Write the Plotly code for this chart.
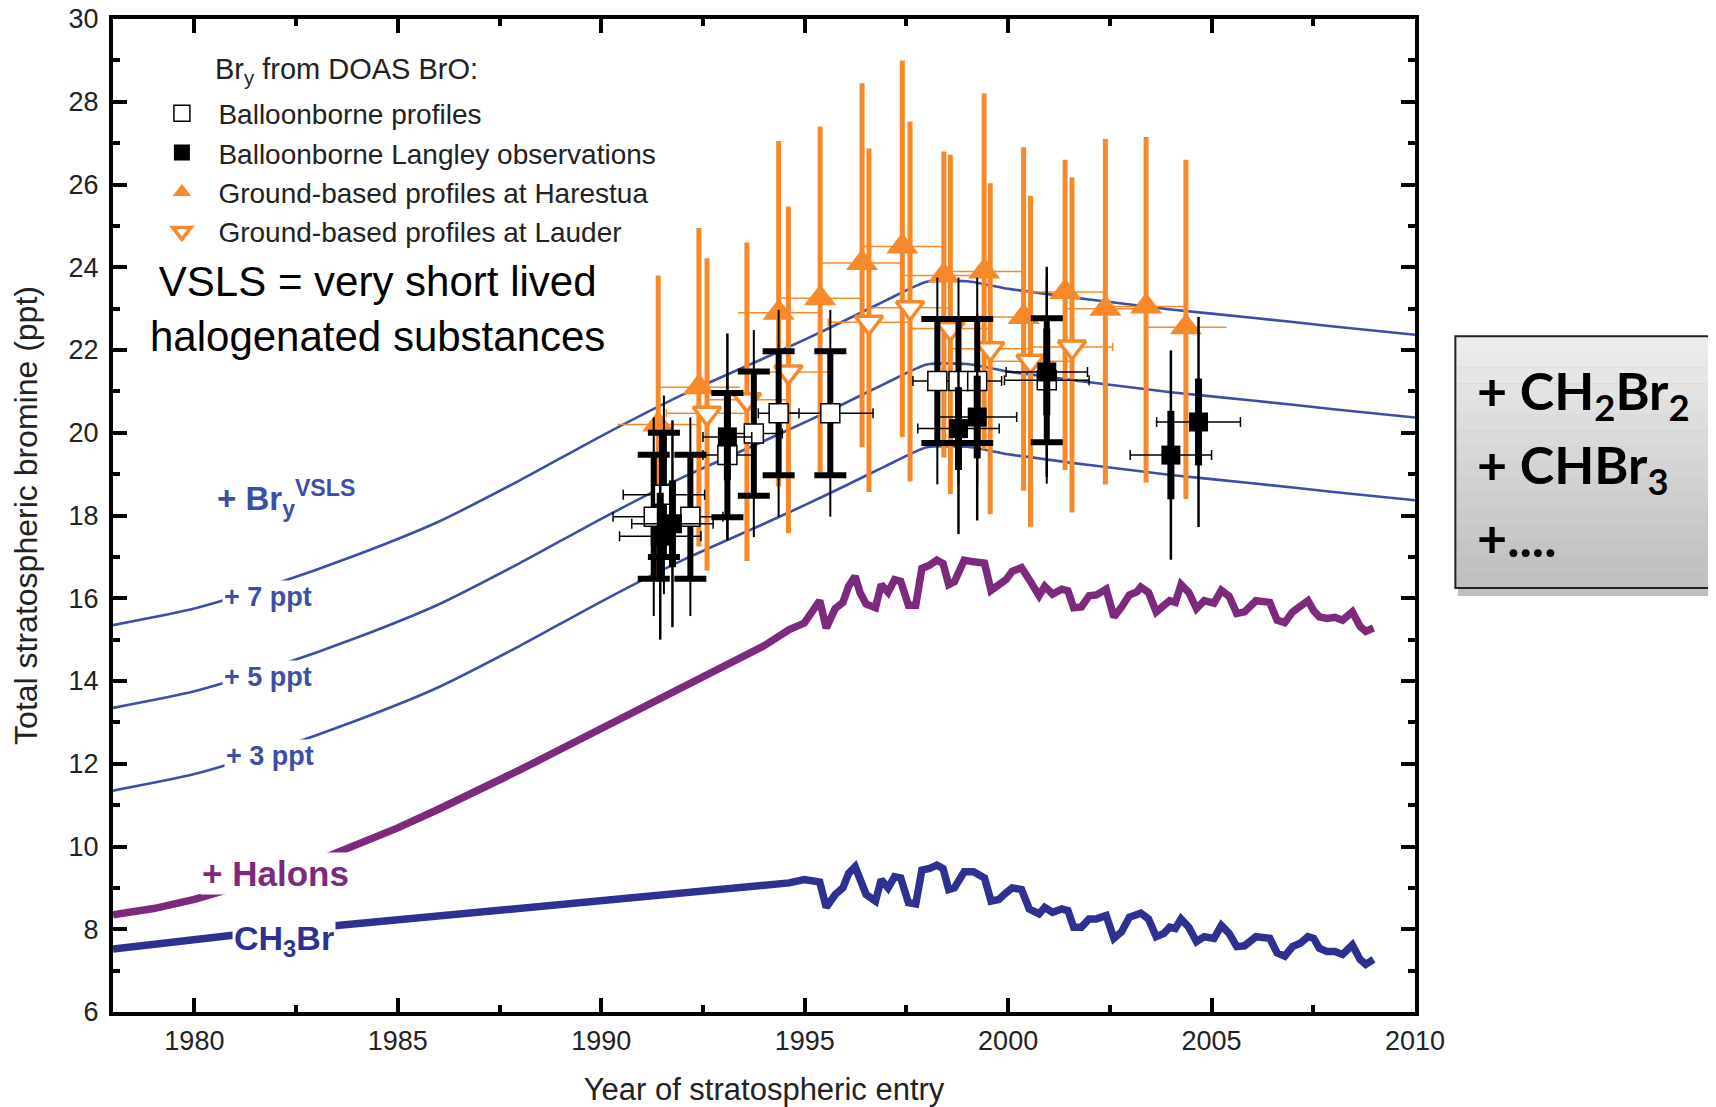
import plotly.graph_objects as go

# === Scenario curves (ppt) ===
bry_years = [1978, 1980, 1982, 1984, 1986, 1988, 1990, 1992, 1994, 1995, 1996, 1997,
             1998, 1999, 2000, 2002, 2004, 2006, 2008, 2010]
bry_plus7 = [15.35, 15.75, 16.35, 17.05, 17.85, 18.85, 19.92, 20.92, 21.80, 22.25, 22.72, 23.20,
             23.65, 23.66, 23.48, 23.22, 22.98, 22.78, 22.57, 22.37]
bry_plus5 = [13.35, 13.75, 14.35, 15.05, 15.85, 16.85, 17.92, 18.92, 19.80, 20.25, 20.72, 21.20,
             21.65, 21.66, 21.48, 21.22, 20.98, 20.78, 20.57, 20.37]
bry_plus3 = [11.35, 11.75, 12.35, 13.05, 13.85, 14.85, 15.92, 16.92, 17.80, 18.25, 18.72, 19.20,
             19.65, 19.66, 19.48, 19.22, 18.98, 18.78, 18.57, 18.37]

early_years = [1978, 1979, 1980, 1981, 1982, 1983, 1984, 1985, 1986, 1987, 1988, 1989,
               1990, 1991, 1992, 1993, 1994]
halons_early = [8.35, 8.50, 8.72, 9.00, 9.30, 9.65, 10.05, 10.45, 10.90, 11.35, 11.85, 12.35,
                12.85, 13.35, 13.85, 14.30, 14.85]
ch3br_early = [7.52, 7.64, 7.76, 7.86, 7.95, 8.04, 8.12, 8.21, 8.30, 8.40, 8.50, 8.59,
               8.68, 8.78, 8.88, 8.97, 9.05]

osc_years = [1994.62, 1994.99, 1995.37, 1995.53, 1995.75, 1995.94, 1996.08, 1996.24, 1996.36, 1996.51,
             1996.74, 1996.88, 1997.05, 1997.21, 1997.36, 1997.55, 1997.73, 1997.88, 1998.07, 1998.25,
             1998.40, 1998.54, 1998.68, 1998.92, 1999.15, 1999.42, 1999.58, 1999.77, 1999.95, 2000.10,
             2000.33, 2000.52, 2000.76, 2000.90, 2001.09, 2001.32, 2001.47, 2001.61, 2001.80, 2001.99,
             2002.17, 2002.41, 2002.60, 2002.79, 2002.98, 2003.17, 2003.26, 2003.45, 2003.64, 2003.83,
             2003.97, 2004.11, 2004.25, 2004.44, 2004.63, 2004.82, 2005.06, 2005.24, 2005.43, 2005.62,
             2005.81, 2006.09, 2006.43, 2006.61, 2006.80, 2006.99, 2007.18, 2007.37, 2007.51, 2007.65,
             2007.84, 2008.03, 2008.22, 2008.46, 2008.65, 2008.79, 2008.98]
halons_osc = [15.24, 15.40, 15.94, 15.28, 15.75, 15.90, 16.29, 16.53, 16.14, 15.86,
              15.77, 16.33, 16.14, 16.45, 16.41, 15.83, 15.83, 16.72, 16.80, 16.92,
              16.84, 16.33, 16.40, 16.92, 16.88, 16.85, 16.19, 16.32, 16.45, 16.65,
              16.74, 16.45, 16.06, 16.29, 16.10, 16.22, 16.18, 15.77, 15.79, 16.06,
              16.08, 16.22, 15.55, 15.79, 16.08, 16.16, 16.27, 16.14, 15.67, 15.83,
              15.94, 15.90, 16.33, 16.14, 15.75, 15.94, 15.88, 16.19, 16.05, 15.63,
              15.67, 15.94, 15.90, 15.47, 15.41, 15.67, 15.78, 15.94, 15.70, 15.55,
              15.51, 15.54, 15.47, 15.67, 15.32, 15.20, 15.28]
ch3br_osc = [9.12, 9.20, 9.14, 8.53, 8.84, 9.00, 9.35, 9.51, 9.16, 8.84,
             8.68, 9.20, 9.00, 9.27, 9.24, 8.64, 8.61, 9.43, 9.47, 9.55,
             9.47, 8.96, 9.00, 9.39, 9.39, 9.24, 8.68, 8.72, 8.88, 9.00,
             8.96, 8.49, 8.37, 8.53, 8.41, 8.49, 8.45, 8.05, 8.05, 8.25,
             8.25, 8.33, 7.78, 7.94, 8.29, 8.33, 8.39, 8.25, 7.82, 7.90,
             8.05, 8.02, 8.25, 8.05, 7.70, 7.82, 7.78, 8.09, 7.90, 7.58,
             7.60, 7.82, 7.78, 7.43, 7.35, 7.58, 7.66, 7.82, 7.78, 7.54,
             7.46, 7.46, 7.39, 7.62, 7.27, 7.15, 7.27]

# === Bry from DOAS BrO observations ===
harestua_year = [1991.40, 1992.40, 1994.36, 1995.38, 1996.41, 1997.40, 1998.42, 1999.41,
                 2000.38, 2001.40, 2002.39, 2003.39, 2004.37]
harestua_bry = [20.2, 21.1, 22.9, 23.25, 24.1, 24.5, 23.8, 23.9, 22.8, 23.4, 23.0, 23.05, 22.55]
harestua_up = [3.6, 3.85, 4.15, 4.15, 4.35, 4.5, 3.0, 4.3, 4.1, 3.2, 4.1, 4.1, 4.05]
harestua_down = [3.8, 3.85, 4.2, 4.2, 4.45, 4.6, 4.4, 4.3, 4.2, 4.3, 4.25, 4.25, 4.15]
harestua_xerr = [1.0, 1.0, 1.0, 1.0, 1.0, 1.0, 1.0, 1.0, 1.0, 1.0, 1.0, 1.0, 1.0]

lauder_year = [1992.60, 1993.58, 1994.60, 1996.58, 1997.59, 1998.58, 1999.56, 2000.55, 2001.57]
lauder_bry = [20.47, 20.8, 21.47, 22.67, 23.02, 22.52, 22.03, 21.73, 22.07]
lauder_up = [3.75, 3.8, 4.0, 4.2, 4.5, 4.2, 4.0, 4.0, 4.1]
lauder_down = [3.8, 3.9, 3.9, 4.1, 4.2, 4.0, 4.0, 4.0, 4.0]
lauder_xerr = [1.0, 1.0, 1.0, 1.0, 1.0, 1.0, 1.0, 1.0, 1.0]

profile_year = [1991.29, 1991.54, 1992.19, 1993.10, 1993.75, 1994.36, 1995.63,
                1998.26, 1998.78, 1999.24, 2000.95]
profile_bry = [17.97, 18.5, 17.97, 19.46, 19.98, 20.47, 20.47, 21.25, 21.25, 21.25, 21.27]
profile_err = [1.5, 1.5, 1.5, 1.5, 1.5, 1.5, 1.5, 1.5, 1.5, 1.5, 1.5]
profile_err_total = [2.4, 2.4, 2.4, 2.0, 2.5, 2.5, 2.5, 2.5, 2.5, 2.5, 2.5]
profile_xerr = [1.0, 1.0, 0.8, 0.6, 0.7, 0.5, 1.05, 0.6, 0.6, 0.6, 1.04]

langley_year = [1991.45, 1991.75, 1993.10, 1998.78, 1999.24, 2000.95, 2004.00, 2004.68]
langley_bry = [17.5, 17.8, 19.9, 20.1, 20.38, 21.47, 19.46, 20.26]
langley_err = [1.05, 1.05, 1.05, 1.0, 1.0, 1.05, 1.07, 1.05]
langley_err_total = [2.5, 2.5, 2.5, 2.55, 2.5, 2.54, 2.53, 2.54]
langley_xerr = [1.0, 1.0, 0.6, 1.0, 0.97, 1.0, 1.0, 1.03]

# === Colours / fonts ===
BLUE = '#3C4FA6'
PURPLE = '#7B2A7C'
NAVY = '#2E3192'
ORANGE = '#F7892B'
FONT = 'Liberation Sans'

fig = go.Figure()

# scenario lines
for vals in (bry_plus7, bry_plus5, bry_plus3):
    fig.add_trace(go.Scatter(x=bry_years, y=vals, mode='lines', showlegend=False,
                             line=dict(color=BLUE, width=2.6, shape='spline', smoothing=0.6)))
fig.add_trace(go.Scatter(x=early_years + osc_years, y=halons_early + halons_osc, mode='lines',
                         showlegend=False, line=dict(color=PURPLE, width=7.5)))
fig.add_trace(go.Scatter(x=early_years + osc_years, y=ch3br_early + ch3br_osc, mode='lines',
                         showlegend=False, line=dict(color=NAVY, width=7.5)))

# Harestua
fig.add_trace(go.Scatter(
    x=harestua_year, y=harestua_bry, mode='markers', name='Ground-based profiles at Harestua',
    legendgroup='h', legendrank=3,
    marker=dict(symbol='triangle-up', size=28, color=ORANGE, line=dict(width=0)),
    error_y=dict(type='data', symmetric=False, array=harestua_up, arrayminus=harestua_down,
                 color=ORANGE, thickness=5, width=0),
    error_x=dict(type='data', array=harestua_xerr, color=ORANGE, thickness=1.5, width=0)))

# Lauder
fig.add_trace(go.Scatter(
    x=lauder_year, y=lauder_bry, mode='markers', name='Ground-based profiles at Lauder',
    legendgroup='l', legendrank=4,
    marker=dict(symbol='triangle-down', size=24, color='white', line=dict(width=3.5, color=ORANGE)),
    error_y=dict(type='data', symmetric=False, array=lauder_up, arrayminus=lauder_down,
                 color=ORANGE, thickness=5, width=0),
    error_x=dict(type='data', array=lauder_xerr, color=ORANGE, thickness=1.5, width=4)))

# balloon profiles: thin total error first, then thick error with caps
fig.add_trace(go.Scatter(
    x=profile_year, y=profile_bry, mode='markers', showlegend=False,
    marker=dict(size=2, opacity=0),
    error_y=dict(type='data', array=profile_err_total, color='black', thickness=2, width=0)))
fig.add_trace(go.Scatter(
    x=profile_year, y=profile_bry, mode='markers', name='Balloonborne profiles',
    legendgroup='p', legendrank=1,
    marker=dict(symbol='square', size=19, color='white', line=dict(width=1.5, color='black')),
    error_y=dict(type='data', array=profile_err, color='black', thickness=6, width=16),
    error_x=dict(type='data', array=profile_xerr, color='black', thickness=1.5, width=5)))

# balloon Langley
fig.add_trace(go.Scatter(
    x=langley_year, y=langley_bry, mode='markers', showlegend=False,
    marker=dict(size=2, opacity=0),
    error_y=dict(type='data', array=langley_err_total, color='black', thickness=2.5, width=0)))
fig.add_trace(go.Scatter(
    x=langley_year, y=langley_bry, mode='markers', name='Balloonborne Langley observations',
    legendgroup='g', legendrank=2,
    marker=dict(symbol='square', size=19, color='black'),
    error_y=dict(type='data', array=langley_err, color='black', thickness=7, width=0),
    error_x=dict(type='data', array=langley_xerr, color='black', thickness=1.5, width=5)))

# === Labels ===
annots = [
    dict(x=1982.25, y=18.4, text='<b>+ Br<sub>y</sub><sup>VSLS</sup></b>', font=dict(size=33, color=BLUE)),
    dict(x=1981.8, y=16.03, text='<b>+ 7 ppt</b>', font=dict(size=27, color=BLUE), bgcolor='white'),
    dict(x=1981.8, y=14.1, text='<b>+ 5 ppt</b>', font=dict(size=27, color=BLUE), bgcolor='white'),
    dict(x=1981.85, y=12.19, text='<b>+ 3 ppt</b>', font=dict(size=27, color=BLUE), bgcolor='white'),
    dict(x=1982.0, y=9.34, text='<b>+ Halons</b>', font=dict(size=35, color=PURPLE), bgcolor='white'),
    dict(x=1982.2, y=7.73, text='<b>CH<sub>3</sub>Br</b>', font=dict(size=34, color=NAVY), bgcolor='white'),
    dict(x=1984.5, y=23.0, text='VSLS = very short lived<br>halogenated substances',
         font=dict(size=42, color='black')),
]
for a in annots:
    a.update(xref='x', yref='y', showarrow=False, font_family=FONT)
    fig.add_annotation(**a)

fig.add_annotation(x=0.0765, y=0.968, xref='paper', yref='paper', xanchor='left', showarrow=False,
                   text='Br<sub>y</sub> from DOAS BrO:', font=dict(family=FONT, size=29, color='#222'))

# right-hand grey box with gradient
bx0, bx1, by0, by1 = 1.031, 1.25, 0.427, 0.6806
shapes = [dict(type='rect', xref='paper', yref='paper', x0=bx0 + 0.002, x1=bx1, y0=by0 - 0.008,
               y1=by1 - 0.006, fillcolor='rgba(0,0,0,0.25)', line=dict(width=0), layer='above')]
nb = 16
for i in range(nb):
    c = int(236 - (236 - 192) * i / (nb - 1))
    shapes.append(dict(type='rect', xref='paper', yref='paper', x0=bx0, x1=bx1,
                       y0=by1 - (i + 1) * (by1 - by0) / nb, y1=by1 - i * (by1 - by0) / nb,
                       fillcolor=f'rgb({c},{c},{c})', line=dict(width=0), layer='above'))
shapes.append(dict(type='rect', xref='paper', yref='paper', x0=bx0, x1=bx1, y0=by0, y1=by1,
                   line=dict(color='#222', width=2), layer='above'))
fig.update_layout(shapes=shapes)

for txt, yy in [('<b>+ CH<sub>2</sub>Br<sub>2</sub></b>', 0.6225), ('<b>+ CHBr<sub>3</sub></b>', 0.5475),
                ('<b>+....</b>', 0.4785)]:
    fig.add_annotation(x=1.046, y=yy, xref='paper', yref='paper', xanchor='left', showarrow=False,
                       text=txt, font=dict(family='Lato', size=52, color='black'))

axis_common = dict(showline=True, linewidth=4, linecolor='black', mirror='allticks',
                   ticks='inside', ticklen=14, tickwidth=4, tickcolor='black', showgrid=False,
                   zeroline=False, automargin=False, ticklabeloverflow='allow',
                   tickfont=dict(family=FONT, size=27, color='#222'))
fig.update_xaxes(range=[1978, 2010], tick0=1980, dtick=5, ticklabelstandoff=2,
                 minor=dict(ticks='inside', ticklen=7, tickwidth=4, tickcolor='black', dtick=2.5, tick0=1980),
                 title=dict(text='Year of stratospheric entry', standoff=26,
                            font=dict(family=FONT, size=31, color='#222')),
                 **axis_common)
fig.update_yaxes(range=[6, 30], tick0=6, dtick=2, ticklabelstandoff=5,
                 minor=dict(ticks='inside', ticklen=7, tickwidth=4, tickcolor='black', dtick=1),
                 title=dict(text='Total stratospheric bromine (ppt)', standoff=22,
                            font=dict(family=FONT, size=32, color='#222')),
                 **axis_common)

# page body adds an 8px offset, so the figure is shifted up/left by that much
fig.update_layout(
    width=1708, height=1099,
    margin=dict(l=105, r=301, t=11, b=95),
    paper_bgcolor='white', plot_bgcolor='white',
    legend=dict(x=0.0249, y=0.93, xanchor='left', yanchor='top', bgcolor='rgba(0,0,0,0)',
                font=dict(family=FONT, size=28, color='#222'), tracegroupgap=0,
                itemsizing='trace', itemwidth=63),
)

fig.write_html("out.html")
